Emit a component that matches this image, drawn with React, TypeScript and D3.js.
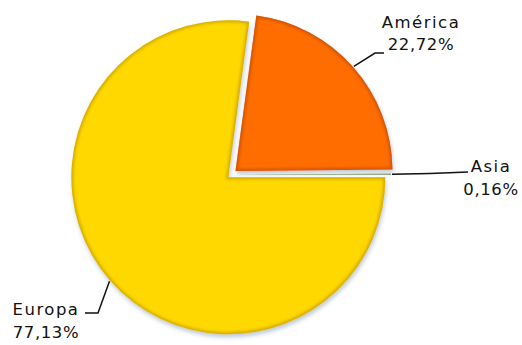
import React from "react";
import * as d3 from "d3";

const categories = ["América", "Asia", "Europa"];
const values = [22.72, 0.16, 77.13];
const valueLabels = ["22,72%", "0,16%", "77,13%"];

const W = 522;
const H = 345;
const CX = 231;
const CY = 175;
const R = 157;
const START_DEG = 7.63;

const fills = ["#FF6D00", "#B4C8A4", "#FFD800"];
const rims = ["#C85000", "#8FA780", "#C9A200"];
const explode = [6, 3, 3.5];
// label layout: [elbowX, elbowY, endX, endY, textX, line1Y, line2Y]
const layout = [
  [375, 53, 384, 53, 421, 28, 50],
  [430, 173.5, 468, 172, 491, 172, 195],
  [98, 313, 85, 313, 46, 315, 338],
];

export default function App() {
  const pie = d3
    .pie<number>()
    .sort(null)
    .startAngle((START_DEG * Math.PI) / 180)
    .endAngle((START_DEG * Math.PI) / 180 + 2 * Math.PI);
  const arcs = pie(values);
  const arc = d3.arc<d3.PieArcDatum<number>>().innerRadius(0).outerRadius(R);

  return (
    <svg
      width={W}
      height={H}
      style={{ position: "absolute", left: 0, top: 0, background: "#fff" }}
    >
      <defs>
        <filter id="shadow" x="-20%" y="-20%" width="140%" height="140%">
          <feGaussianBlur in="SourceAlpha" stdDeviation="2" />
          <feOffset dx="1" dy="3" result="b" />
          <feFlood floodColor="#7088a8" floodOpacity="0.45" />
          <feComposite in2="b" operator="in" />
          <feMerge>
            <feMergeNode />
            <feMergeNode in="SourceGraphic" />
          </feMerge>
        </filter>
        <filter id="soft" x="-10%" y="-10%" width="120%" height="120%">
          <feGaussianBlur stdDeviation="1.4" />
        </filter>
        {arcs.map((a, i) => {
          const mid = (a.startAngle + a.endAngle) / 2;
          const dx = Math.sin(mid) * explode[i];
          const dy = -Math.cos(mid) * explode[i];
          return (
            <clipPath id={`clip${i}`} key={i}>
              <path d={arc(a) || ""} transform={`translate(${CX + dx},${CY + dy})`} />
            </clipPath>
          );
        })}
      </defs>
      {arcs.map((a, i) => {
        const mid = (a.startAngle + a.endAngle) / 2;
        const dx = Math.sin(mid) * explode[i];
        const dy = -Math.cos(mid) * explode[i];
        const d = arc(a) || "";
        const t = `translate(${CX + dx},${CY + dy})`;
        return (
          <g key={categories[i]}>
            <path d={d} transform={t} fill={fills[i]} filter="url(#shadow)" />
            <g clipPath={`url(#clip${i})`}>
              <path
                d={d}
                transform={t}
                fill="none"
                stroke={rims[i]}
                strokeOpacity={0.85}
                strokeWidth={4}
                filter="url(#soft)"
              />
            </g>
          </g>
        );
      })}
      {arcs.map((a, i) => {
        const mid = (a.startAngle + a.endAngle) / 2;
        const ox = CX + Math.sin(mid) * explode[i];
        const oy = CY - Math.cos(mid) * explode[i];
        const ax = ox + Math.sin(mid) * (R + 1);
        const ay = oy - Math.cos(mid) * (R + 1);
        const [ex, ey, fx, fy, tx, l1, l2] = layout[i];
        return (
          <g key={`l${i}`}>
            <polyline
              points={`${ax},${ay} ${ex},${ey} ${fx},${fy}`}
              fill="none"
              stroke="#111"
              strokeWidth={1.5}
            />
            <text
              x={tx}
              y={l1}
              textAnchor="middle"
              fontFamily="DejaVu Sans"
              fontSize={16.5}
              letterSpacing={1.5}
              fill="#111"
            >
              {categories[i]}
            </text>
            <text
              x={tx}
              y={l2}
              textAnchor="middle"
              fontFamily="DejaVu Sans"
              fontSize={16.5}
              letterSpacing={0.6}
              fill="#111"
            >
              {valueLabels[i]}
            </text>
          </g>
        );
      })}
    </svg>
  );
}
